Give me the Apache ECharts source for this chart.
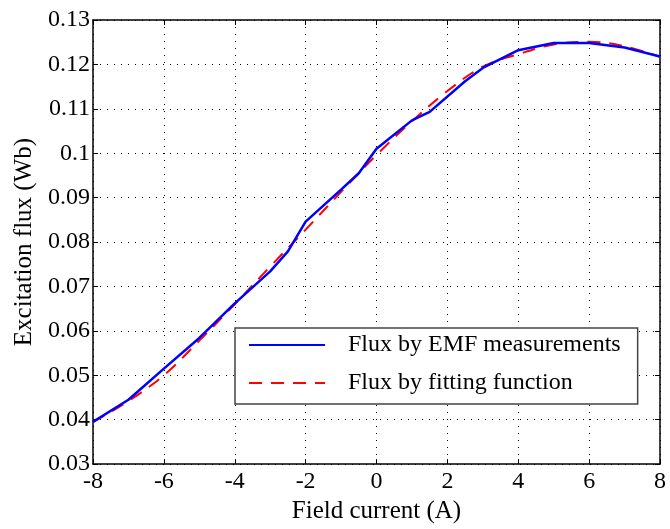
<!DOCTYPE html>
<html>
<head>
<meta charset="utf-8">
<script src="https://cdn.jsdelivr.net/npm/echarts@6/dist/echarts.min.js"></script>
<style>
  html, body { margin: 0; padding: 0; background: #fff; }
  #chart { width: 670px; height: 529px; }
</style>
</head>
<body>
<div id="chart"></div>
<script>
// measured flux (blue, solid)
const measured_x = [-8, -7, -6, -5, -4, -3, -2.5, -2, -1, -0.5, 0, 1, 1.5, 2.5, 3, 4, 5, 6, 7, 8];
const measured_y = [0.0395, 0.0445, 0.0515, 0.0584, 0.0662, 0.0734, 0.0779, 0.0846, 0.0918, 0.0955, 0.1010, 0.1074, 0.1093, 0.1162, 0.1192, 0.1232, 0.1248, 0.1248, 0.1238, 0.1218];

// fitting function (red, dashed)
const fitted_x = [-8, -7, -6, -5, -4, -3, -2, -1, 0, 1, 2, 3, 4, 5, 6, 7, 8];
const fitted_y = [0.0395, 0.0442, 0.0500, 0.0578, 0.0660, 0.0745, 0.0828, 0.0913, 0.0996, 0.1072, 0.1140, 0.1195, 0.1223, 0.1245, 0.1251, 0.1241, 0.1217];

const x_ticks = [-8, -6, -4, -2, 0, 2, 4, 6, 8];
const y_ticks = [0.03, 0.04, 0.05, 0.06, 0.07, 0.08, 0.09, 0.1, 0.11, 0.12, 0.13];

const legend_names = ["Flux by EMF measurements", "Flux by fitting function"];

const font = "Liberation Serif";

function pairs(xs, ys) {
  return xs.map((x, i) => [x, ys[i]]);
}

const frame_line = { show: true, onZero: false, lineStyle: { color: "#000", width: 1.5 } };
const tick_in = { show: true, inside: true, length: 5, lineStyle: { color: "#000", width: 1 } };
const dotted_grid = { show: true, lineStyle: { color: "#000", width: 1, type: [1, 6] } };

const chart = echarts.init(document.getElementById("chart"), null, { renderer: "canvas" });
chart.setOption({
  animation: false,
  backgroundColor: "#fff",
  grid: { left: 93, right: 10, top: 20, bottom: 62, containLabel: false },
  legend: {
    left: 235,
    top: 328,
    orient: "vertical",
    itemWidth: 76,
    itemHeight: 14,
    itemGap: 14,
    padding: [5, 17, 9, 13],
    borderColor: "#444",
    borderWidth: 1.5,
    backgroundColor: "#fff",
    itemStyle: { opacity: 0 },
    textStyle: { fontFamily: font, fontSize: 24, color: "#000", padding: [0, 0, 0, 18] },
    data: legend_names
  },
  xAxis: [{
    type: "value",
    min: x_ticks[0],
    max: x_ticks[x_ticks.length - 1],
    interval: 2,
    name: "Field current (A)",
    nameLocation: "middle",
    nameGap: 31,
    nameTextStyle: { fontFamily: font, fontSize: 25, color: "#000" },
    axisLine: frame_line,
    axisTick: tick_in,
    axisLabel: { fontFamily: font, fontSize: 24, color: "#000", margin: 6 },
    splitLine: dotted_grid
  }, {
    type: "value",
    position: "top",
    min: x_ticks[0],
    max: x_ticks[x_ticks.length - 1],
    interval: 2,
    axisLine: frame_line,
    axisTick: tick_in,
    axisLabel: { show: false },
    splitLine: { show: false }
  }],
  yAxis: [{
    type: "value",
    min: y_ticks[0],
    max: y_ticks[y_ticks.length - 1],
    interval: 0.01,
    name: "Excitation flux (Wb)",
    nameLocation: "middle",
    nameGap: 56,
    nameTextStyle: { fontFamily: font, fontSize: 25, color: "#000" },
    axisLine: frame_line,
    axisTick: tick_in,
    axisLabel: {
      fontFamily: font, fontSize: 24, color: "#000", margin: 3,
      formatter: v => parseFloat(v.toFixed(2)).toString()
    },
    splitLine: dotted_grid
  }, {
    type: "value",
    position: "right",
    min: y_ticks[0],
    max: y_ticks[y_ticks.length - 1],
    interval: 0.01,
    axisLine: frame_line,
    axisTick: tick_in,
    axisLabel: { show: false },
    splitLine: { show: false }
  }],
  series: [{
    name: legend_names[0],
    type: "line",
    data: pairs(measured_x, measured_y),
    symbol: "none",
    showSymbol: false,
    z: 3,
    lineStyle: { color: "#0000ff", width: 2.5 },
    itemStyle: { color: "#0000ff" }
  }, {
    name: legend_names[1],
    type: "line",
    data: pairs(fitted_x, fitted_y),
    symbol: "none",
    showSymbol: false,
    smooth: 0.35,
    z: 2,
    lineStyle: { color: "#ff0000", width: 2, type: [13, 9] },
    itemStyle: { color: "#ff0000" }
  }]
});
</script>
</body>
</html>
